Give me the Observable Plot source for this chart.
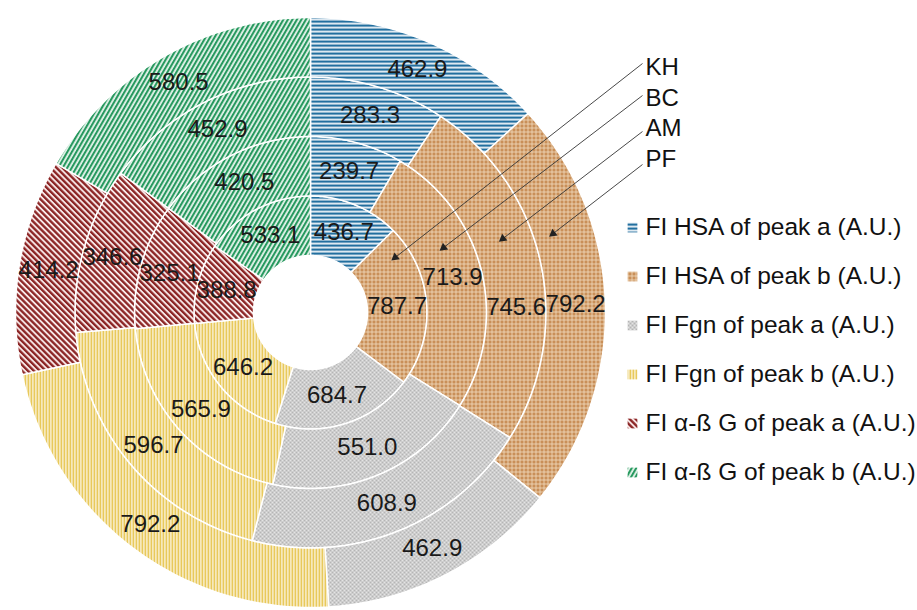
<!DOCTYPE html>
<html><head><meta charset="utf-8">
<script src="https://cdn.jsdelivr.net/npm/d3@7"></script>
<script src="https://cdn.jsdelivr.net/npm/@observablehq/plot@0.6"></script>
<style>body{margin:0;background:#fff;overflow:hidden} #chart{width:917px;height:610px}</style>
</head><body><div id="chart"></div>
<script>
// ---- data ----
const categories = [
  "FI HSA of peak a (A.U.)",
  "FI HSA of peak b (A.U.)",
  "FI Fgn of peak a (A.U.)",
  "FI Fgn of peak b (A.U.)",
  "FI α-ß G of peak a (A.U.)",
  "FI α-ß G of peak b (A.U.)"
];
const ringNames = ["KH", "BC", "AM", "PF"]; // inner -> outer
const KH = [436.7, 787.7, 684.7, 646.2, 388.8, 533.1];
const BC = [239.7, 713.9, 551.0, 565.9, 325.1, 420.5];
const AM = [283.3, 745.6, 608.9, 596.7, 346.6, 452.9];
const PF = [462.9, 792.2, 462.9, 792.2, 414.2, 580.5];
const ringValues = [KH, BC, AM, PF];
const patternIds = ["patA", "patB", "patC", "patD", "patE", "patF"];

// ---- layout ----
const W = 917, H = 610;
const cx = 310, cy = 312, hole = 57, ringW = 59.5;
const arrowTipRadius = [101, 148, 206, 255];
const arrowTipAngle = [57, 64, 69, 72];
const arrowStartY = [63, 95, 131, 164];
const labelAngleOverride = {"2-1": 88.6}; // manually moved label in the original
const labelX = 645, labelY0 = 67, labelStep = 30.5;
const legendX = 632, legendY0 = 227, legendStep = 49;
const font = "Liberation Sans, Arial, sans-serif";

const polar = (r, deg) => {
  const a = deg * Math.PI / 180;
  return [cx + r * Math.sin(a), cy - r * Math.cos(a)];
};

const slicePts = [];
const labels = [];
ringValues.forEach((vals, ri) => {
  const total = d3.sum(vals);
  const r0 = hole + ri * ringW, r1 = r0 + ringW;
  let acc = 0;
  vals.forEach((v, ci) => {
    const a0 = acc / total * 360, a1 = (acc + v) / total * 360;
    acc += v;
    const key = ri + "-" + ci;
    const n = Math.max(2, Math.ceil(a1 - a0));
    const pts = [];
    for (let k = 0; k <= n; k++) pts.push(polar(r1, a0 + (a1 - a0) * k / n));
    for (let k = n; k >= 0; k--) pts.push(polar(r0, a0 + (a1 - a0) * k / n));
    pts.forEach(([x, y]) => slicePts.push({key, x, y, fill: `url(#${patternIds[ci]})`}));
    const mid = labelAngleOverride[key] ?? (a0 + a1) / 2;
    const [lx, ly] = polar((r0 + r1) / 2, mid);
    labels.push({x: lx, y: ly, text: v.toFixed(1)});
  });
});

const arrows = ringNames.map((name, i) => {
  const [x2, y2] = polar(arrowTipRadius[i], arrowTipAngle[i]);
  const x1 = labelX - 3, y1 = arrowStartY[i];
  const rot = Math.atan2(x2 - x1, -(y2 - y1)) * 180 / Math.PI;
  return {name, x1, y1, x2, y2, rot, lx: labelX, ly: labelY0 + i * labelStep};
});

const legend = categories.map((c, i) => ({
  text: c, x: legendX, y: legendY0 + i * legendStep, fill: `url(#${patternIds[i]})`
}));

const plot = Plot.plot({
  width: W, height: H, margin: 0,
  style: {fontFamily: font, background: "white"},
  x: {domain: [0, W], range: [0, W], axis: null},
  y: {domain: [0, H], range: [0, H], axis: null},
  color: {type: "identity"},
  marks: [
    Plot.line(slicePts, {x: "x", y: "y", z: "key", fill: "fill", stroke: "white", strokeWidth: 1.5, curve: "linear-closed"}),
    Plot.text(labels, {x: "x", y: "y", text: "text", fontSize: 24, fill: "#1a1a1a", fontFamily: font}),
    Plot.link(arrows, {x1: "x1", y1: "y1", x2: "x2", y2: "y2", stroke: "#333", strokeWidth: 0.9}),
    Plot.dot(arrows, {x: "x2", y: "y2", symbol: "triangle", r: 3.2, fill: "#222", stroke: "none", rotate: "rot"}),
    Plot.text(arrows, {x: "lx", y: "ly", text: "name", fontSize: 24, textAnchor: "start", fill: "#111", fontFamily: font}),
    Plot.dot(legend, {x: "x", y: "y", symbol: "square", r: 5.5, fill: "fill", stroke: "none"}),
    Plot.text(legend, {x: "x", y: "y", dx: 13, text: "text", fontSize: 24.5, textAnchor: "start", fill: "#111", fontFamily: font})
  ]
});

// hatch patterns
const defs = d3.select(plot).insert("defs", ":first-child");
function pat(id, w, h, bg, draw, transform) {
  const p = defs.append("pattern").attr("id", id).attr("patternUnits", "userSpaceOnUse")
    .attr("width", w).attr("height", h);
  if (transform) p.attr("patternTransform", transform);
  p.append("rect").attr("width", w).attr("height", h).attr("fill", bg);
  draw(p);
}
pat("patA", 4, 4, "#ffffff", p => p.append("rect").attr("width", 4).attr("height", 2.3).attr("fill", "#226f9f"));
pat("patB", 4, 4, "#f2dcc0", p => p.append("rect").attr("width", 3.2).attr("height", 3.2).attr("fill", "#c98f58"));
pat("patC", 4, 4, "#e4e4e4", p => p.append("path").attr("d", "M0,0L4,4M4,0L0,4M-1,3L1,5M3,-1L5,1M-1,1L1,-1M3,5L5,3").attr("stroke", "#b5b5b5").attr("stroke-width", 1));
pat("patD", 3, 3, "#ffffff", p => p.append("rect").attr("width", 1.7).attr("height", 3).attr("fill", "#e4bf3e"));
pat("patE", 4.2, 4.2, "#f8e8e8", p => p.append("rect").attr("width", 2.3).attr("height", 4.2).attr("fill", "#8b2424"), "rotate(-45)");
pat("patF", 3.9, 3.9, "#e6f4ec", p => p.append("rect").attr("width", 2.1).attr("height", 3.9).attr("fill", "#27995f"), "rotate(30)");

document.getElementById("chart").appendChild(plot);
</script>
</body></html>
